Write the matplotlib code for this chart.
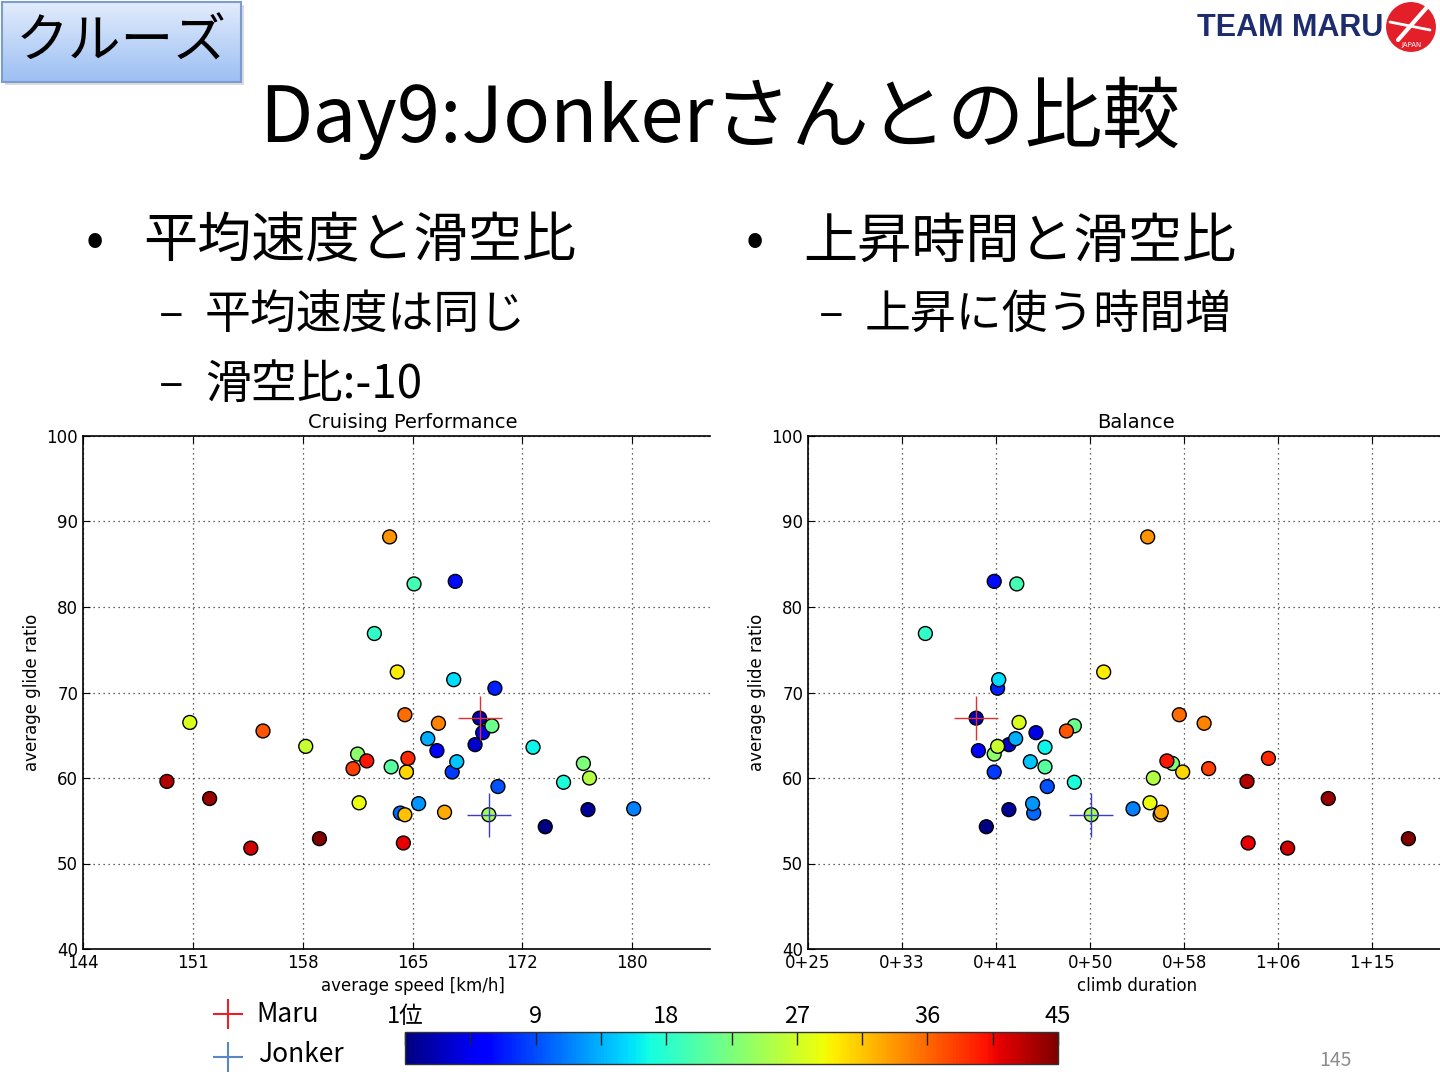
import numpy as np
import matplotlib
matplotlib.use("Agg")
import matplotlib.pyplot as plt
from matplotlib import font_manager
from matplotlib.patches import Rectangle, Circle
from matplotlib.colors import Normalize, LinearSegmentedColormap
from matplotlib.cm import ScalarMappable
from matplotlib.ticker import FuncFormatter

# one entry per pilot (day 9)
speed = [164.1, 163.1, 164.6, 151.0, 155.8, 158.6, 162.0, 162.6, 161.7, 164.2,
         149.5, 152.3, 162.1, 155.0, 159.5, 165.7, 168.4, 168.3, 171.0, 170.0,
         165.1, 167.3, 170.8, 170.2, 166.6, 169.7, 173.5, 167.2, 165.3, 168.5,
         176.8, 165.2, 168.2, 177.2, 175.5, 171.2, 166.0, 164.8, 165.1, 167.7,
         170.6, 177.1, 180.1, 174.3, 165.0]
glide = [88.2, 76.9, 72.4, 66.5, 65.5, 63.7, 62.8, 62.0, 61.1, 61.3,
         59.6, 57.6, 57.1, 51.8, 52.9, 82.7, 83.0, 71.5, 70.5, 67.0,
         67.4, 66.4, 66.1, 65.3, 64.6, 63.9, 63.6, 63.2, 62.3, 61.9,
         61.7, 60.7, 60.7, 60.0, 59.5, 59.0, 57.0, 55.9, 55.7, 56.0,
         55.7, 56.3, 56.4, 54.3, 52.4]
# climb duration in minutes
climb = [55.1, 35.4, 51.2, 43.7, 47.9, 41.8, 41.5, 56.8, 60.5, 46.0,
         63.9, 71.1, 55.3, 67.5, 78.2, 43.5, 41.5, 41.9, 41.8, 39.9,
         57.9, 60.1, 48.6, 45.2, 43.4, 42.8, 46.0, 40.1, 65.8, 44.7,
         57.3, 58.2, 41.5, 55.6, 48.6, 46.2, 44.9, 45.0, 56.2, 56.3,
         50.1, 42.8, 53.8, 40.8, 64.0]
rank = [34, 19, 30, 28, 37, 27, 24, 40, 38, 21,
        43, 44, 29, 42, 45, 20, 7, 16, 8, 3,
        36, 35, 22, 5, 14, 4, 17, 6, 39, 15,
        23, 31, 9, 26, 18, 10, 13, 11, 32, 33,
        25, 2, 12, 1, 41]
MARU = 19
JONKER = 40

speed_ticks = 144 + 7.2 * np.arange(6)
climb_ticks = np.arange(1500, 4501, 500) / 60.0
cbar_ticks = np.arange(0, 45.1, 4.5)
cbar_labels = ['1位', '', '9', '', '18', '', '27', '', '36', '', '45']

JP = ['Noto Sans CJK JP', 'DejaVu Sans']
names = {f.name for f in font_manager.fontManager.ttflist}
logo_font = 'Liberation Sans Narrow' if 'Liberation Sans Narrow' in names else 'Liberation Sans'

plt.rcParams['font.family'] = ['DejaVu Sans']

W, H = 1440, 1080
fig = plt.figure(figsize=(W / 100, H / 100), dpi=100, facecolor='white')

# slide layer in pixel coordinates
ax0 = fig.add_axes([0, 0, 1, 1])
ax0.axis('off')

# "クルーズ" label box
ax0.add_patch(Rectangle((5, 5), 239, 80, color='#9a9a9a', alpha=0.35, lw=0))
grad = LinearSegmentedColormap.from_list('box', ['#e2ecfc', '#9cbff3'])
ax0.imshow(np.linspace(0, 1, 64).reshape(-1, 1), cmap=grad, aspect='auto',
           extent=[2, 241, 82, 2], origin='upper', zorder=1)
ax0.add_patch(Rectangle((2, 2), 239, 80, fill=False, ec='#7b9bd2', lw=1.5, zorder=2))
ax0.text(121, 42, 'クルーズ', ha='center', va='center', fontsize=38, family=JP, zorder=3)

# logo
ax0.text(1383, 28, 'TEAM MARU', ha='right', va='center', fontsize=22,
         family=logo_font, weight='bold', color='#1d2b6f')
ax0.add_patch(Circle((1411, 27), 26, fc='#e3202a', ec='white', lw=1.5))
ax0.plot([1398, 1428], [40, 6], color='white', lw=3, solid_capstyle='round')
ax0.plot([1390, 1430], [22, 30], color='white', lw=2, solid_capstyle='round')
ax0.text(1412, 45, 'JAPAN', ha='center', va='center', fontsize=5, color='white')

# title and bullets
ax0.text(720, 118, 'Day9:Jonkerさんとの比較', ha='center', va='center', fontsize=56, family=JP)
ax0.text(95, 242, '•', ha='center', va='center', fontsize=39, family=JP)
ax0.text(143, 242, '平均速度と滑空比', ha='left', va='center', fontsize=39, family=JP)
ax0.text(171, 315, '–', ha='center', va='center', fontsize=33, family=JP)
ax0.text(205, 315, '平均速度は同じ', ha='left', va='center', fontsize=33, family=JP)
ax0.text(171, 385, '–', ha='center', va='center', fontsize=33, family=JP)
ax0.text(205, 385, '滑空比:-10', ha='left', va='center', fontsize=33, family=JP)
ax0.text(755, 242, '•', ha='center', va='center', fontsize=39, family=JP)
ax0.text(803, 242, '上昇時間と滑空比', ha='left', va='center', fontsize=39, family=JP)
ax0.text(831, 315, '–', ha='center', va='center', fontsize=33, family=JP)
ax0.text(865, 315, '上昇に使う時間増', ha='left', va='center', fontsize=33, family=JP)

# legend for the two crosses
ax0.plot(228, 1014, '+', color='#e8202a', ms=22, mew=1.5)
ax0.text(256, 1014, 'Maru', ha='left', va='center', fontsize=19, family=JP)
ax0.plot(228, 1057, '+', color='#5b86c5', ms=22, mew=1.5)
ax0.text(258, 1055, 'Jonker', ha='left', va='center', fontsize=19, family=JP)

ax0.text(1335, 1060, '145', ha='center', va='center', fontsize=14, color='#8c8c8c', family=JP)

ax0.set_xlim(0, W)
ax0.set_ylim(H, 0)

# the two scatter panels
ax1 = fig.add_axes([83 / W, 1 - 949 / H, 627 / W, 513 / H])
ax2 = fig.add_axes([808 / W, 1 - 949 / H, 632 / W, 513 / H])

norm = Normalize(1, 45)
order = np.argsort(rank)
g = np.asarray(glide)
r = np.asarray(rank)

for ax, xs in ((ax1, np.asarray(speed)), (ax2, np.asarray(climb))):
    ax.scatter(xs[order], g[order], c=r[order], cmap='jet', norm=norm, s=100,
               edgecolors='k', linewidths=1, zorder=3)
    ax.plot(xs[MARU], g[MARU], '+', color='#e03030', ms=32, mew=1, zorder=4)
    ax.plot(xs[JONKER], g[JONKER], '+', color='#3c3cc8', ms=32, mew=1, zorder=4)
    ax.set_yticks(range(40, 101, 10))
    ax.set_ylim(40, 100)
    ax.set_axisbelow(True)
    ax.grid(True, color='#333333', linestyle=(0, (1, 3)), linewidth=0.9)
    ax.spines['right'].set_visible(False)
    for s in ('left', 'top', 'bottom'):
        ax.spines[s].set_linewidth(1.2)
    ax.tick_params(direction='in', top=True, right=False, length=5, labelsize=12)
    ax.set_ylabel('average glide ratio', fontsize=12)

ax1.set_xticks(speed_ticks)
ax1.set_xlim(144, 185.1)
ax1.xaxis.set_major_formatter(FuncFormatter(lambda v, p: '%d' % int(v + 1e-6)))
ax1.set_xlabel('average speed [km/h]', fontsize=12, x=0.526)
ax1.text(0.526, 1.016, 'Cruising Performance', transform=ax1.transAxes,
         ha='center', va='baseline', fontsize=14)

ax2.set_xticks(climb_ticks)
ax2.set_xlim(25, 81.0)
ax2.xaxis.set_major_formatter(FuncFormatter(lambda v, p: '%d+%02d' % divmod(int(v + 1e-6), 60)))
ax2.set_xlabel('climb duration', fontsize=12, x=0.52)
ax2.text(0.519, 1.016, 'Balance', transform=ax2.transAxes,
         ha='center', va='baseline', fontsize=14)

# rank colour bar
cax = fig.add_axes([405 / W, 1 - 1064 / H, 653 / W, 32 / H])
cb = fig.colorbar(ScalarMappable(norm=Normalize(0, 45), cmap='jet'), cax=cax,
                  orientation='horizontal')
cb.outline.set_linewidth(1)
cb.outline.set_edgecolor('#333333')
cax.xaxis.set_ticks_position('top')
cax.set_xticks(cbar_ticks)
cax.set_xticklabels(cbar_labels, fontfamily=JP)
cax.tick_params(direction='in', length=9, width=1, colors='#222222',
                labeltop=True, labelbottom=False, pad=3, labelsize=17)
for lbl in cax.get_xticklabels():
    lbl.set_color('black')

fig.savefig('out.png', dpi=100, facecolor='white')
